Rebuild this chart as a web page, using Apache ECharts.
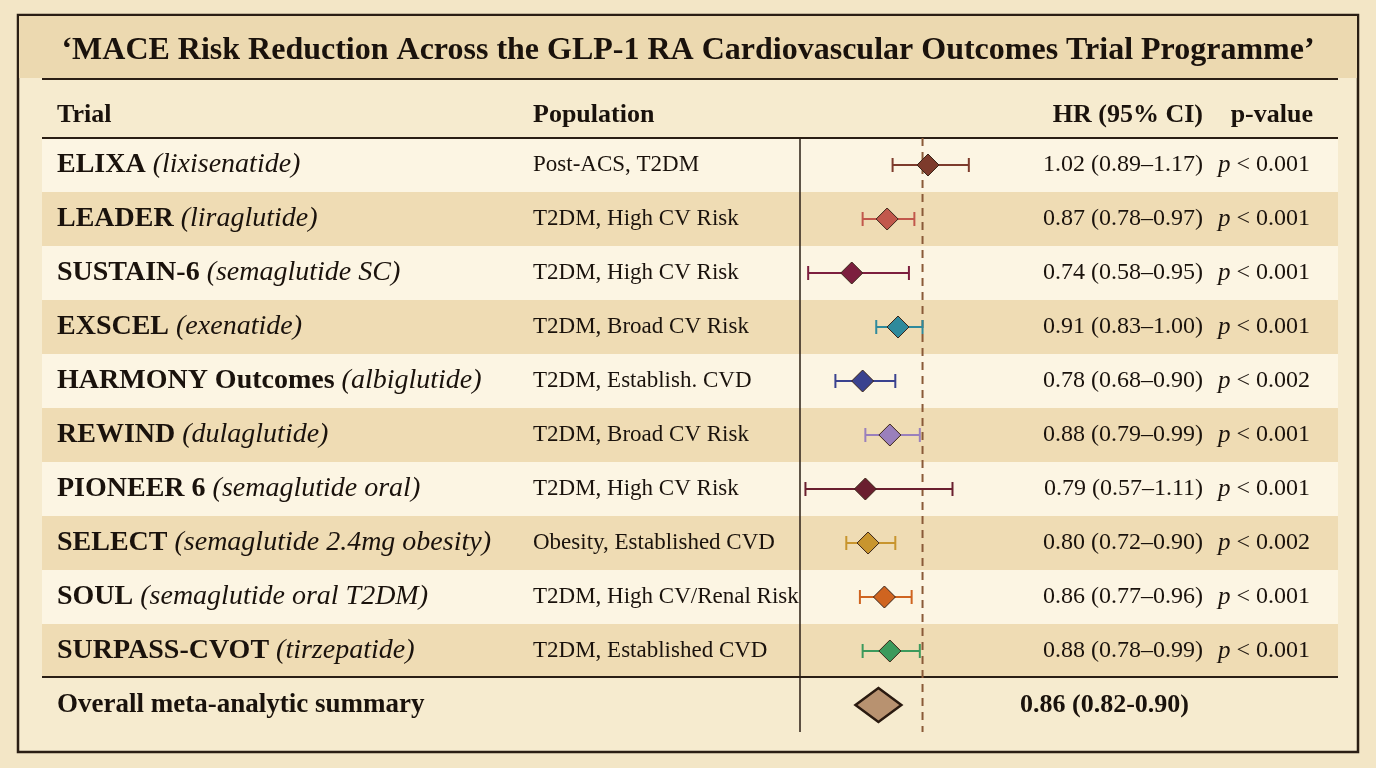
<!DOCTYPE html>
<html lang="en">
<head>
<meta charset="UTF-8">
<title>MACE Risk Reduction</title>
<script src="https://cdn.jsdelivr.net/npm/echarts@6/dist/echarts.min.js"></script>
<style>
    html, body { margin: 0; padding: 0; background: #f3e6c6; }
    #chart { width: 1376px; height: 768px; }
</style>
</head>
<body>
<div id="chart"></div>
<script>
    // 数据
    const trials = ['ELIXA', 'LEADER', 'SUSTAIN-6', 'EXSCEL', 'HARMONY Outcomes', 'REWIND', 'PIONEER 6', 'SELECT', 'SOUL', 'SURPASS-CVOT'];
    const drugs = ['(lixisenatide)', '(liraglutide)', '(semaglutide SC)', '(exenatide)', '(albiglutide)', '(dulaglutide)', '(semaglutide oral)', '(semaglutide 2.4mg obesity)', '(semaglutide oral T2DM)', '(tirzepatide)'];
    const populations = ['Post-ACS, T2DM', 'T2DM, High CV Risk', 'T2DM, High CV Risk', 'T2DM, Broad CV Risk', 'T2DM, Establish. CVD', 'T2DM, Broad CV Risk', 'T2DM, High CV Risk', 'Obesity, Established CVD', 'T2DM, High CV/Renal Risk', 'T2DM, Established CVD'];
    const hr = [1.02, 0.87, 0.74, 0.91, 0.78, 0.88, 0.79, 0.80, 0.86, 0.88];
    const lower = [0.89, 0.78, 0.58, 0.83, 0.68, 0.79, 0.57, 0.72, 0.77, 0.78];
    const upper = [1.17, 0.97, 0.95, 1.00, 0.90, 0.99, 1.11, 0.90, 0.96, 0.99];
    const pValues = ['< 0.001', '< 0.001', '< 0.001', '< 0.001', '< 0.002', '< 0.001', '< 0.001', '< 0.002', '< 0.001', '< 0.001'];
    const colors = ['#7d3b2c', '#c2584c', '#7c1e3e', '#2f8a9c', '#3a428f', '#9a80bc', '#6a1f2f', '#c8952e', '#cf6420', '#3c9a5c'];
    const summary = { hr: 0.86, lower: 0.82, upper: 0.90, label: 'Overall meta-analytic summary' };

    const serif = '"Liberation Serif", "DejaVu Serif", serif';
    const rowY = i => 165 + 54 * i;

    let chart = echarts.init(document.getElementById('chart'));

    // 背景、条纹、文字
    let g = [];
    g.push({ type: 'rect', shape: { x: 18, y: 15, width: 1340, height: 737 }, style: { fill: '#f6ebcf', stroke: '#2a1e14', lineWidth: 2.5 } });
    g.push({ type: 'rect', shape: { x: 19, y: 16, width: 1338, height: 62 }, style: { fill: '#ecd9b0' } });
    g.push({ type: 'text', x: 688, y: 51, style: { text: '‘MACE Risk Reduction Across the GLP-1 RA Cardiovascular Outcomes Trial Programme’', font: 'bold 32px ' + serif, fill: '#1a120c', align: 'center', verticalAlign: 'middle' } });
    g.push({ type: 'line', shape: { x1: 42, y1: 79, x2: 1338, y2: 79 }, style: { stroke: '#2a1e14', lineWidth: 2 } });
    for (let i = 0; i < trials.length; i++) {
        g.push({ type: 'rect', shape: { x: 42, y: rowY(i) - 27, width: 1296, height: 54 }, style: { fill: i % 2 ? '#efdcb4' : '#fcf5e3' } });
    }
    g.push({ type: 'line', shape: { x1: 42, y1: 138, x2: 1338, y2: 138 }, style: { stroke: '#2a1e14', lineWidth: 2 } });
    g.push({ type: 'line', shape: { x1: 42, y1: 677, x2: 1338, y2: 677 }, style: { stroke: '#2a1e14', lineWidth: 2 } });
    g.push({ type: 'line', shape: { x1: 800, y1: 138, x2: 800, y2: 732 }, style: { stroke: '#2a1e14', lineWidth: 1.5 } });

    const head = 'bold 26px ' + serif;
    g.push({ type: 'text', x: 57, y: 115, style: { text: 'Trial', font: head, fill: '#1a120c', verticalAlign: 'middle' } });
    g.push({ type: 'text', x: 533, y: 115, style: { text: 'Population', font: head, fill: '#1a120c', verticalAlign: 'middle' } });
    g.push({ type: 'text', x: 1203, y: 115, style: { text: 'HR (95% CI)', font: head, fill: '#1a120c', align: 'right', verticalAlign: 'middle' } });
    g.push({ type: 'text', x: 1313, y: 115, style: { text: 'p-value', font: head, fill: '#1a120c', align: 'right', verticalAlign: 'middle' } });

    trials.forEach((t, i) => {
        g.push({ type: 'text', x: 57, y: rowY(i), style: {
            text: '{b|' + t + '}{i|' + drugs[i] + '}', verticalAlign: 'middle', fill: '#1a120c',
            rich: { b: { font: 'bold 28px ' + serif, fill: '#1a120c', padding: [0, 7, 0, 0] }, i: { font: 'italic 28px ' + serif, fill: '#1a120c' } }
        } });
        g.push({ type: 'text', x: 533, y: rowY(i), style: { text: populations[i], font: '23px ' + serif, fill: '#1a120c', verticalAlign: 'middle' } });
        g.push({ type: 'text', x: 1203, y: rowY(i), style: {
            text: hr[i].toFixed(2) + ' (' + lower[i].toFixed(2) + '–' + upper[i].toFixed(2) + ')',
            font: '24px ' + serif, fill: '#1a120c', align: 'right', verticalAlign: 'middle' } });
        g.push({ type: 'text', x: 1218, y: rowY(i), style: {
            text: '{i|p} ' + pValues[i], font: '24px ' + serif, fill: '#1a120c', verticalAlign: 'middle',
            rich: { i: { font: 'italic 25px ' + serif, fill: '#1a120c' } } } });
    });
    g.push({ type: 'text', x: 57, y: rowY(10), style: { text: summary.label, font: 'bold 27px ' + serif, fill: '#1a120c', verticalAlign: 'middle' } });
    g.push({ type: 'text', x: 1020, y: rowY(10), style: {
        text: summary.hr.toFixed(2) + ' (' + summary.lower.toFixed(2) + '-' + summary.upper.toFixed(2) + ')',
        font: 'bold 26px ' + serif, fill: '#1a120c', verticalAlign: 'middle' } });

    const ciData = hr.map((v, i) => [i, v, lower[i], upper[i]]);

    function renderCI(params, api) {
        let i = api.value(0);
        let c = api.coord([api.value(1), i]);
        let lo = api.coord([api.value(2), i]);
        let hi = api.coord([api.value(3), i]);
        let col = colors[i];
        let d = 11;
        return {
            type: 'group',
            children: [
                { type: 'line', shape: { x1: lo[0], y1: c[1], x2: hi[0], y2: c[1] }, style: { stroke: col, lineWidth: 2 } },
                { type: 'line', shape: { x1: lo[0], y1: c[1] - 7, x2: lo[0], y2: c[1] + 7 }, style: { stroke: col, lineWidth: 2 } },
                { type: 'line', shape: { x1: hi[0], y1: c[1] - 7, x2: hi[0], y2: c[1] + 7 }, style: { stroke: col, lineWidth: 2 } },
                { type: 'polygon', shape: { points: [[c[0], c[1] - d], [c[0] + d, c[1]], [c[0], c[1] + d], [c[0] - d, c[1]]] },
                  style: { fill: col, stroke: '#3a2418', lineWidth: 1 } }
            ]
        };
    }

    function renderSummary(params, api) {
        let c = api.coord([api.value(1), api.value(0)]);
        let d = 17;
        return {
            type: 'polygon',
            shape: { points: [[c[0] - 6, c[1] - d], [c[0] - 6 + d * 1.35, c[1]], [c[0] - 6, c[1] + d], [c[0] - 6 - d * 1.35, c[1]]] },
            style: { fill: '#b89270', stroke: '#2a1a10', lineWidth: 2.5 }
        };
    }

    let option = {
        backgroundColor: '#f3e6c6',
        animation: false,
        graphic: { elements: g },
        grid: { left: 800, top: 138, width: 177, height: 594 },
        xAxis: { type: 'value', min: 0.55, max: 1.2, show: false },
        yAxis: { type: 'value', min: -0.5, max: 10.5, inverse: true, show: false },
        series: [
            {
                type: 'line', data: [[1, -0.5], [1, 10.5]], symbol: 'none', z: 1,
                lineStyle: { color: '#8a5a38', width: 2, type: [8, 6] }
            },
            { type: 'custom', renderItem: renderCI, data: ciData, encode: { x: [1, 2, 3], y: 0 }, z: 5 },
            { type: 'custom', renderItem: renderSummary, data: [[10, summary.hr, summary.lower, summary.upper]], encode: { x: [1, 2, 3], y: 0 }, z: 5 }
        ]
    };
    chart.setOption(option);
</script>
</body>
</html>
